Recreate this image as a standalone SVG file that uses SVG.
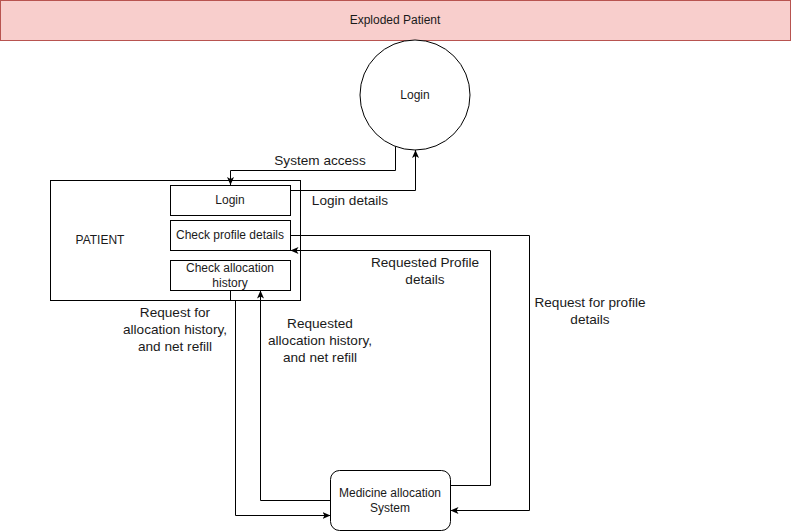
<svg xmlns="http://www.w3.org/2000/svg" width="791" height="531" viewBox="0 0 791 531">
  <defs>
    <marker id="arrow" viewBox="0 0 8 7" refX="8" refY="3.5" markerWidth="8" markerHeight="7" markerUnits="userSpaceOnUse" orient="auto">
      <path d="M0,0 L8,3.5 L0,7 L2,3.5 Z" fill="#000"/>
    </marker>
    <style>
      .box { fill: #fff; stroke: #000; stroke-width: 1; }
      .edge { fill: none; stroke: #000; stroke-width: 1; }
      .arrow { marker-end: url(#arrow); }
      text { font-family: "Liberation Sans", Arial, sans-serif; fill: #1a1a1a; text-anchor: middle; dominant-baseline: central; }
      .node { font-size: 12px; }
      .lbl { font-size: 13.6px; }
    </style>
  </defs>
  <rect width="791" height="531" fill="#fff"/>

  <!-- header bar -->
  <g id="title">
    <rect x="0.5" y="0.5" width="790" height="40" fill="#f8cecc" stroke="#b85450"/>
    <text class="node" x="395" y="20">Exploded Patient</text>
  </g>

  <!-- login process -->
  <g id="login-process">
    <circle class="box" cx="415" cy="95" r="55"/>
    <text class="node" x="415" y="95">Login</text>
  </g>

  <!-- patient entity with its sub-functions -->
  <g id="patient">
    <rect class="box" x="50.5" y="180.5" width="250" height="120"/>
    <text class="node" x="100" y="240">PATIENT</text>
  </g>
  <g id="patient-login">
    <rect class="box" x="170.5" y="185.5" width="120" height="30"/>
    <text class="node" x="230" y="200">Login</text>
  </g>
  <g id="check-profile">
    <rect class="box" x="170.5" y="220.5" width="120" height="30"/>
    <text class="node" x="230" y="235">Check profile details</text>
  </g>
  <g id="check-allocation">
    <rect class="box" x="170.5" y="260.5" width="120" height="30"/>
    <text class="node" x="230" y="268">Check allocation</text>
    <text class="node" x="230" y="283">history</text>
  </g>

  <!-- medicine allocation system -->
  <g id="medicine-system">
    <rect class="box" x="330.5" y="470.5" width="120" height="60" rx="9" ry="9"/>
    <text class="node" x="390" y="493">Medicine allocation</text>
    <text class="node" x="390" y="508">System</text>
  </g>

  <!-- data flows -->
  <g id="connectors">
    <path class="edge arrow" d="M395.5,146.6 V170.5 H230.5 V185"/>
    <path class="edge arrow" d="M290.5,190.5 H415.5 V150"/>
    <path class="edge arrow" d="M290.5,235.5 H529.5 V510.5 H450.5"/>
    <path class="edge arrow" d="M450.5,485.5 H490.5 V250.5 H290.5"/>
    <path class="edge arrow" d="M230.5,290.5 V300.5 H235.5 V515.5 H330.5"/>
    <path class="edge arrow" d="M330.5,500.5 H260.5 V290.5"/>

    <text class="lbl" x="320" y="160">System access</text>
    <text class="lbl" x="350" y="200">Login details</text>
    <text class="lbl" x="425" y="262.5">Requested Profile</text>
    <text class="lbl" x="425" y="279">details</text>
    <text class="lbl" x="590" y="302">Request for profile</text>
    <text class="lbl" x="590" y="319">details</text>
    <text class="lbl" x="175" y="312.5">Request for</text>
    <text class="lbl" x="175" y="329.5">allocation history,</text>
    <text class="lbl" x="175" y="346.5">and net refill</text>
    <text class="lbl" x="320" y="323.5">Requested</text>
    <text class="lbl" x="320" y="340.5">allocation history,</text>
    <text class="lbl" x="320" y="357.5">and net refill</text>
  </g>
</svg>
